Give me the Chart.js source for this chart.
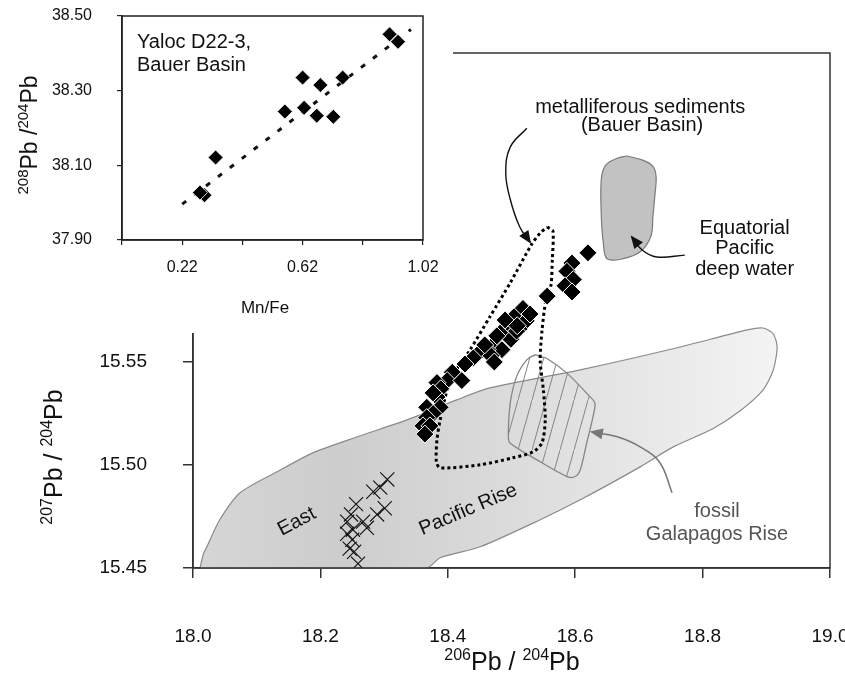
<!DOCTYPE html>
<html>
<head>
<meta charset="utf-8">
<script src="https://cdn.jsdelivr.net/npm/chart.js@4.4.1/dist/chart.umd.min.js"></script>
<style>
  html, body { margin: 0; padding: 0; background: #fff; }
  #wrap { position: relative; width: 845px; height: 679px; }
  #mainChart { position: absolute; left: 0; top: 0; }
  #insetChart { position: absolute; left: 0; top: 0; background: #fff; }
</style>
</head>
<body>
<div id="wrap">
  <canvas id="mainChart" width="845" height="679"></canvas>
  <canvas id="insetChart" width="453" height="333"></canvas>
</div>
<script>
const FONT = '"Liberation Sans", Arial, Helvetica, sans-serif';

// main diagram axes
const xTicks = [18.0, 18.2, 18.4, 18.6, 18.8, 19.0];
const yTicks = [15.45, 15.5, 15.55, 15.6, 15.65, 15.7];

// Bauer Basin metalliferous sediments (black diamonds)
const bauerX = [18.620, 18.595, 18.587, 18.597, 18.584, 18.595, 18.556,
  18.518, 18.504, 18.523, 18.493, 18.512, 18.482, 18.499, 18.473, 18.485,
  18.462, 18.451, 18.468, 18.473, 18.508, 18.490, 18.509, 18.477, 18.529, 18.458,
  18.440, 18.427, 18.407, 18.399, 18.422, 18.383, 18.389, 18.383, 18.377,
  18.388, 18.367, 18.377, 18.367, 18.361, 18.372, 18.364];
const bauerY = [15.603, 15.598, 15.594, 15.590, 15.587, 15.584, 15.582,
  15.576, 15.572, 15.570, 15.569, 15.566, 15.564, 15.561, 15.559, 15.556,
  15.556, 15.555, 15.553, 15.550, 15.565, 15.5704, 15.5676, 15.5627, 15.5733, 15.5583,
  15.552, 15.549, 15.545, 15.541, 15.541, 15.540, 15.537, 15.533, 15.535,
  15.528, 15.528, 15.525, 15.523, 15.519, 15.519, 15.515];

// East Pacific Rise samples (crosses)
const crossX = [18.305, 18.294, 18.283, 18.301, 18.289, 18.256, 18.248, 18.267,
  18.242, 18.273, 18.251, 18.242, 18.250, 18.246, 18.253, 18.259];
const crossY = [15.493, 15.489, 15.487, 15.479, 15.476, 15.481, 15.476, 15.4725,
  15.4725, 15.4695, 15.4686, 15.4666, 15.4637, 15.4594, 15.4579, 15.4521];

// field outlines
const eprFieldX = [18.011, 18.016, 18.022, 18.042, 18.074, 18.132, 18.188, 18.258,
  18.336, 18.414, 18.466, 18.608, 18.765, 18.870, 18.895, 18.911, 18.917, 18.911,
  18.895, 18.859, 18.816, 18.754, 18.702, 18.608, 18.545, 18.451, 18.388, 18.367, 18.011];
const eprFieldY = [15.450, 15.4565, 15.4605, 15.4734, 15.4865, 15.4967, 15.5059, 15.5137,
  15.5219, 15.5316, 15.5374, 15.5462, 15.5573, 15.5656, 15.5665, 15.5636, 15.5573, 15.5462,
  15.5365, 15.5263, 15.5176, 15.5088, 15.4991, 15.4831, 15.4734, 15.4603, 15.455, 15.450, 15.450];

const galapagosX = [18.545, 18.555, 18.587, 18.623, 18.631, 18.628, 18.618, 18.608,
  18.600, 18.587, 18.540, 18.498, 18.495, 18.498, 18.508, 18.524, 18.537, 18.545];
const galapagosY = [15.5526, 15.5518, 15.5446, 15.5332, 15.530, 15.5235, 15.5106, 15.4977,
  15.4944, 15.4944, 15.5025, 15.5106, 15.5138, 15.530, 15.5429, 15.551, 15.5534, 15.5526];

const eqDeepX = [18.681, 18.706, 18.722, 18.727, 18.725, 18.722, 18.719, 18.702,
  18.674, 18.650, 18.644, 18.641, 18.641, 18.648, 18.666, 18.681];
const eqDeepY = [15.650, 15.648, 15.645, 15.640, 15.6305, 15.6208, 15.6112, 15.6035,
  15.6001, 15.6001, 15.6083, 15.6208, 15.6388, 15.6456, 15.6489, 15.650];

const metSedX = [18.556, 18.565, 18.564, 18.562, 18.554, 18.548, 18.545, 18.550,
  18.553, 18.548, 18.534, 18.502, 18.451, 18.388, 18.382, 18.383, 18.388, 18.404,
  18.435, 18.466, 18.498, 18.531, 18.545, 18.556];
const metSedY = [15.6155, 15.6136, 15.5995, 15.5874, 15.5801, 15.5656, 15.5507, 15.5365,
  15.5219, 15.5108, 15.5064, 15.5035, 15.5001, 15.4986, 15.5016, 15.5123, 15.5219, 15.5413,
  15.5559, 15.5719, 15.5884, 15.6068, 15.6126, 15.6155];

// label arrows
const arrowMetX = [18.524, 18.498, 18.491, 18.498, 18.513, 18.529];
const arrowMetY = [15.6635, 15.6543, 15.6417, 15.629, 15.6155, 15.6082];
const arrowEqX = [18.772, 18.728, 18.705, 18.689];
const arrowEqY = [15.6019, 15.601, 15.6044, 15.6107];
const arrowFosX = [18.752, 18.733, 18.702, 18.666, 18.626];
const arrowFosY = [15.4865, 15.5011, 15.5088, 15.5137, 15.5161];

// inset: Yaloc D22-3
const insetXTicks = [0.02, 0.22, 0.42, 0.62, 0.82, 1.02];
const insetYTicks = [37.9, 38.1, 38.3, 38.5];
const mnFe = [0.909, 0.937, 0.620, 0.679, 0.753, 0.561, 0.625, 0.667, 0.722, 0.331, 0.294, 0.279];
const pb208 = [38.451, 38.431, 38.335, 38.315, 38.335, 38.244, 38.254, 38.233, 38.230, 38.121, 38.020, 38.027];
const fitX = [0.22, 0.98];
const fitY = [37.996, 38.464];

const pts = (xs, ys) => xs.map((x, i) => ({ x: x, y: ys[i] }));

const annotations = [
  { text: "metalliferous sediments", x: 18.702, y: 15.6737, color: "#111" },
  { text: "(Bauer Basin)", x: 18.705, y: 15.6649, color: "#111" },
  { text: "Equatorial", x: 18.866, y: 15.615, color: "#111" },
  { text: "Pacific", x: 18.866, y: 15.6049, color: "#111" },
  { text: "deep water", x: 18.866, y: 15.5947, color: "#111" },
  { text: "fossil", x: 18.8226, y: 15.4773, color: "#555" },
  { text: "Galapagos Rise", x: 18.8226, y: 15.4662, color: "#555" },
  { text: "East", x: 18.163, y: 15.4725, color: "#111", rot: -28 },
  { text: "Pacific Rise", x: 18.432, y: 15.4783, color: "#111", rot: -23 },
];

function hatchPattern() {
  const t = document.createElement("canvas");
  t.width = 14; t.height = 50;
  const c = t.getContext("2d");
  c.strokeStyle = "#858585";
  c.lineWidth = 1;
  c.beginPath();
  c.moveTo(-1, 53.6); c.lineTo(15, -3.6);
  c.stroke();
  return c.createPattern(t, "repeat");
}

function supText(c, parts, x, y, big, small, rot) {
  c.save();
  c.translate(x, y);
  c.rotate(rot || 0);
  let w = 0;
  parts.forEach((p) => {
    c.font = (p.sup ? small : big) + "px " + FONT;
    w += c.measureText(p.t).width;
  });
  let cx = -w / 2;
  c.textAlign = "left";
  c.textBaseline = "alphabetic";
  c.fillStyle = "#111";
  parts.forEach((p) => {
    c.font = (p.sup ? small : big) + "px " + FONT;
    c.fillText(p.t, cx, p.sup ? -big * 0.4 : 0);
    cx += c.measureText(p.t).width;
  });
  c.restore();
}

// keep the plot box fixed: drop the label overhang that Chart.js reserves
const noOverhang = (s) => {
  s.paddingLeft = 0; s.paddingRight = 0; s.paddingTop = 0; s.paddingBottom = 0;
};

const frame = {
  id: "frame",
  afterDraw(chart, args, opts) {
    const a = chart.chartArea, c = chart.ctx;
    c.save();
    c.strokeStyle = opts.color || "#222";
    c.lineWidth = opts.width || 1.5;
    c.strokeRect(a.left, a.top, a.right - a.left, a.bottom - a.top);
    c.restore();
  },
};

const arrowHeads = {
  id: "arrowHeads",
  afterDatasetsDraw(chart) {
    const c = chart.ctx;
    chart.data.datasets.forEach((ds, i) => {
      if (!ds.arrow) return;
      const el = chart.getDatasetMeta(i).data;
      const a = el[el.length - 2], b = el[el.length - 1];
      const ang = Math.atan2(b.y - a.y, b.x - a.x);
      c.save();
      c.translate(b.x, b.y);
      c.rotate(ang);
      c.beginPath();
      c.moveTo(2, 0); c.lineTo(-11, -5.5); c.lineTo(-11, 5.5); c.closePath();
      c.fillStyle = ds.borderColor;
      c.fill();
      c.restore();
    });
  },
};

const textLabels = {
  id: "textLabels",
  afterDatasetsDraw(chart) {
    const c = chart.ctx, sx = chart.scales.x, sy = chart.scales.y;
    c.save();
    c.font = "20px " + FONT;
    c.textAlign = "center";
    c.textBaseline = "middle";
    annotations.forEach((l) => {
      c.save();
      c.translate(sx.getPixelForValue(l.x), sy.getPixelForValue(l.y));
      c.rotate(((l.rot || 0) * Math.PI) / 180);
      c.fillStyle = l.color;
      c.fillText(l.text, 0, 0);
      c.restore();
    });
    c.restore();
  },
};

const mainTitles = {
  id: "mainTitles",
  afterDraw(chart) {
    const c = chart.ctx;
    supText(c, [{ t: "206", sup: true }, { t: "Pb / " }, { t: "204", sup: true }, { t: "Pb" }],
      512, 670, 25, 16, 0);
    supText(c, [{ t: "207", sup: true }, { t: "Pb / " }, { t: "204", sup: true }, { t: "Pb" }],
      62, 457, 25, 16, -Math.PI / 2);
  },
};

const insetTitles = {
  id: "insetTitles",
  afterDraw(chart) {
    const c = chart.ctx;
    supText(c, [{ t: "208", sup: true }, { t: "Pb /" }, { t: "204", sup: true }, { t: "Pb" }],
      37, 135, 23, 15, -Math.PI / 2);
    c.save();
    c.font = "17px " + FONT;
    c.fillStyle = "#111";
    c.textAlign = "center";
    c.textBaseline = "middle";
    c.fillText("Mn/Fe", 265, 308);
    c.font = "20px " + FONT;
    c.textAlign = "left";
    c.fillText("Yaloc D22-3,", 137, 42);
    c.fillText("Bauer Basin", 137, 65);
    c.restore();
  },
};

const shapeBase = { showLine: true, pointRadius: 0, pointHoverRadius: 0 };

new Chart(document.getElementById("mainChart"), {
  type: "scatter",
  data: {
    datasets: [
      Object.assign({}, shapeBase, {
        data: pts(eprFieldX, eprFieldY),
        order: 9,
        fill: "shape",
        tension: 0.25,
        borderColor: "#8a8a8a",
        borderWidth: 1.2,
        backgroundColor: (ctx) => {
          const ch = ctx.chart, a = ch.chartArea;
          if (!a) return "#dddddd";
          const g = ch.ctx.createLinearGradient(a.left, 0, a.right - 50, 0);
          g.addColorStop(0, "#d6d6d6");
          g.addColorStop(0.25, "#cdcdcd");
          g.addColorStop(0.5, "#d9d9d9");
          g.addColorStop(1, "#f4f4f4");
          return g;
        },
      }),
      Object.assign({}, shapeBase, {
        data: pts(galapagosX, galapagosY),
        order: 8,
        fill: "shape",
        tension: 0.3,
        borderColor: "#858585",
        borderWidth: 1.3,
        backgroundColor: hatchPattern(),
      }),
      Object.assign({}, shapeBase, {
        data: pts(eqDeepX, eqDeepY),
        order: 7,
        fill: "shape",
        tension: 0.35,
        borderColor: "#7a7a7a",
        borderWidth: 1.2,
        backgroundColor: "#c2c2c2",
      }),
      {
        data: pts(crossX, crossY),
        order: 6,
        pointStyle: "crossRot",
        pointRadius: 10,
        borderColor: "#111",
        borderWidth: 1.1,
      },
      Object.assign({}, shapeBase, {
        data: pts(metSedX, metSedY),
        order: 5,
        fill: false,
        tension: 0.25,
        borderColor: "#000",
        borderWidth: 3,
        borderDash: [3, 3],
      }),
      {
        data: pts(bauerX, bauerY),
        order: 4,
        pointStyle: "rectRot",
        pointRadius: 9,
        backgroundColor: "#000",
        borderColor: "#fff",
        borderWidth: 1,
      },
      Object.assign({}, shapeBase, {
        data: pts(arrowMetX, arrowMetY),
        order: 3, arrow: true, fill: false, tension: 0.4,
        borderColor: "#111", borderWidth: 1.4,
      }),
      Object.assign({}, shapeBase, {
        data: pts(arrowEqX, arrowEqY),
        order: 2, arrow: true, fill: false, tension: 0.4,
        borderColor: "#111", borderWidth: 1.4,
      }),
      Object.assign({}, shapeBase, {
        data: pts(arrowFosX, arrowFosY),
        order: 1, arrow: true, fill: false, tension: 0.4,
        borderColor: "#777", borderWidth: 1.5,
      }),
    ],
  },
  options: {
    responsive: false,
    animation: false,
    events: [],
    layout: { padding: { top: 53, right: 15, left: 0, bottom: 0 } },
    plugins: {
      legend: { display: false },
      tooltip: { enabled: false },
      frame: { color: "#333", width: 1.5 },
    },
    scales: {
      x: {
        type: "linear",
        min: 18.0,
        max: 19.0,
        afterBuildTicks: (s) => { s.ticks = xTicks.map((v) => ({ value: v })); },
        afterFit: (s) => { s.height = 111; noOverhang(s); },
        ticks: {
          callback: (v) => Number(v).toFixed(1),
          font: { size: 19, family: FONT },
          color: "#111",
          padding: 47,
          maxRotation: 0,
          autoSkip: false,
        },
        grid: { drawOnChartArea: false, tickLength: 10, color: "#333", lineWidth: 1.5 },
        border: { color: "#333", width: 1.5 },
      },
      y: {
        type: "linear",
        min: 15.45,
        max: 15.7,
        afterBuildTicks: (s) => { s.ticks = yTicks.map((v) => ({ value: v })); },
        afterFit: (s) => { s.width = 193; noOverhang(s); },
        ticks: {
          callback: (v) => Number(v).toFixed(2),
          font: { size: 19, family: FONT },
          color: "#111",
          padding: 36,
          autoSkip: false,
        },
        grid: { drawOnChartArea: false, tickLength: 10, color: "#333", lineWidth: 1.5 },
        border: { color: "#333", width: 1.5 },
      },
    },
  },
  plugins: [frame, arrowHeads, textLabels, mainTitles],
});

new Chart(document.getElementById("insetChart"), {
  type: "scatter",
  data: {
    datasets: [
      {
        data: pts(mnFe, pb208),
        order: 1,
        pointStyle: "rectRot",
        pointRadius: 7.5,
        backgroundColor: "#000",
        borderColor: "#fff",
        borderWidth: 0.8,
      },
      Object.assign({}, shapeBase, {
        data: pts(fitX, fitY),
        order: 2,
        fill: false,
        borderColor: "#111",
        borderWidth: 3,
        borderDash: [5, 10],
      }),
    ],
  },
  options: {
    responsive: false,
    animation: false,
    events: [],
    layout: { padding: { top: 16, right: 30, left: 0, bottom: 0 } },
    plugins: {
      legend: { display: false },
      tooltip: { enabled: false },
      frame: { color: "#222", width: 1.5 },
    },
    scales: {
      x: {
        type: "linear",
        min: 0.02,
        max: 1.02,
        afterBuildTicks: (s) => { s.ticks = insetXTicks.map((v) => ({ value: v })); },
        afterFit: (s) => { s.height = 93; noOverhang(s); },
        ticks: {
          callback: (v, i) => (i % 2 === 1 ? Number(v).toFixed(2) : ""),
          font: { size: 16, family: FONT },
          color: "#111",
          padding: 13,
          maxRotation: 0,
          autoSkip: false,
        },
        grid: { drawOnChartArea: false, tickLength: 5, color: "#222", lineWidth: 1.2 },
        border: { color: "#222", width: 1.5 },
      },
      y: {
        type: "linear",
        min: 37.9,
        max: 38.5,
        afterBuildTicks: (s) => { s.ticks = insetYTicks.map((v) => ({ value: v })); },
        afterFit: (s) => { s.width = 122; noOverhang(s); },
        ticks: {
          callback: (v) => Number(v).toFixed(2),
          font: { size: 16, family: FONT },
          color: "#111",
          padding: 25,
          autoSkip: false,
        },
        grid: { drawOnChartArea: false, tickLength: 5, color: "#222", lineWidth: 1.2 },
        border: { color: "#222", width: 1.5 },
      },
    },
  },
  plugins: [frame, insetTitles],
});
</script>
</body>
</html>
